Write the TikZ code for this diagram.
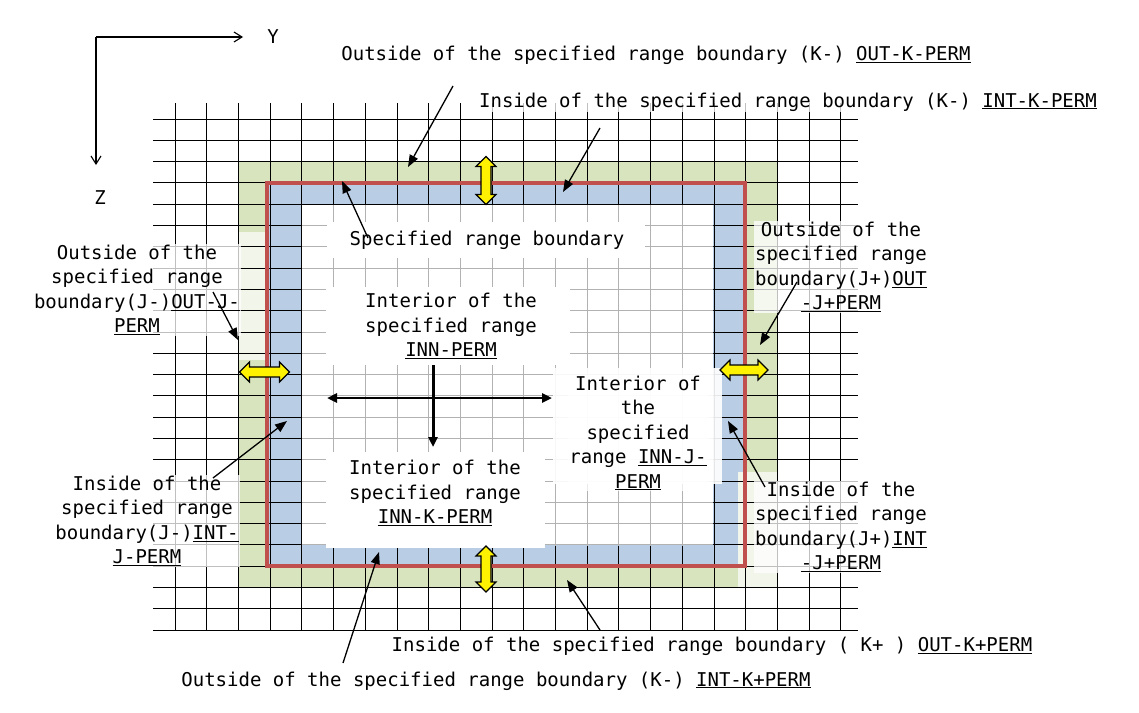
\documentclass[tikz,border=0pt]{standalone}
\usepackage{fontspec}
\setmonofont{DejaVu Sans Mono}
\usetikzlibrary{arrows.meta}
\definecolor{gfill}{HTML}{D7E4BD}
\definecolor{bfill}{HTML}{B9CDE5}
\definecolor{rline}{HTML}{C0504D}
\definecolor{pale}{HTML}{F2F5EA}
\tikzset{
 lbl/.style={font=\ttfamily\fontsize{19}{24.5}\selectfont,align=center,inner sep=1pt,fill=white,fill opacity=0.75,text opacity=1},
 ptr/.style={-{Triangle[length=12pt,width=9pt]},line width=1.3pt},
 blk/.style={{Triangle[length=10pt,width=9pt]}-{Triangle[length=10pt,width=9pt]},line width=2.5pt}
}
\begin{document}
\begin{tikzpicture}[x=1pt,y=-1pt]
\useasboundingbox (0,0) rectangle (1139,712);
% fills
\fill[gfill] (238,161) rectangle (777,588);
\fill[bfill] (267,183) rectangle (745,566);
\fill[pale] (238,232) rectangle (267,360);
\fill[pale] (738,472) rectangle (777,588);
% grid
\foreach \i in {0,...,21} \draw[black,line width=0.8pt] ({175+31.7*\i},103) -- ({175+31.7*\i},630);
\foreach \j in {0,...,24} \draw[black,line width=0.8pt] (153,{119+21.29*\j}) -- (858,{119+21.29*\j});
% interior grey
\fill[white] (302,205) rectangle (713,545);
\begin{scope}
\clip (302,205) rectangle (713,545);
\foreach \i in {0,...,21} \draw[gray!60,line width=0.8pt] ({175+31.7*\i},103) -- ({175+31.7*\i},630);
\foreach \j in {0,...,24} \draw[gray!60,line width=0.8pt] (153,{119+21.29*\j}) -- (858,{119+21.29*\j});
\end{scope}
% white text boxes
\fill[white] (327,222) rectangle (645,258);
\fill[white] (326,287) rectangle (570,365);
\fill[white,opacity=0.9] (553,368) rectangle (722,484);
\fill[white] (326,452) rectangle (545,548);
% red boundary
\draw[rline,line width=4pt] (267,183) rectangle (745,566);
% axes
\coordinate (o) at (96,37);
\coordinate (ye) at (243,37);
\coordinate (ze) at (96,165);
\draw[-{Straight Barb[length=8pt,width=10pt]},line width=1.1pt] (o) -- (ye);
\draw[-{Straight Barb[length=8pt,width=10pt]},line width=1.1pt] (o) -- (ze);
\node[font=\fontsize{19}{20}\selectfont\ttfamily] (ylab) at (273,37) {Y};
\node[font=\fontsize{19}{20}\selectfont\ttfamily] (zlab) at (100,198) {Z};
% labels
\node[lbl] (t1) at (656,55) {Outside of the specified range boundary (K-) \underline{OUT-K-PERM}};
\node[lbl] (t2) at (788,102) {Inside of the specified range boundary (K-) \underline{INT-K-PERM}};
\node[lbl] (t3) at (487,240) {Specified range boundary};
\node[lbl] (t4) at (137,290) {Outside of the\\specified range\\boundary(J-)\underline{OUT-J-}\\\underline{PERM}};
\node[lbl] (t5) at (451,326) {Interior of the\\specified range\\\underline{INN-PERM}};
\node[lbl] (t6) at (638,433) {Interior of\\the\\specified\\range \underline{INN-J-}\\\underline{PERM}};
\node[lbl] (t7) at (435,493) {Interior of the\\specified range\\\underline{INN-K-PERM}};
\node[lbl] (t8) at (841,267) {Outside of the\\specified range\\boundary(J+)\underline{OUT}\\\underline{-J+PERM}};
\node[lbl] (t9) at (147,521) {Inside of the\\specified range\\boundary(J-)\underline{INT-}\\\underline{J-PERM}};
\node[lbl] (t10) at (841,527) {Inside of the\\specified range\\boundary(J+)\underline{INT}\\\underline{-J+PERM}};
\node[lbl] (t11) at (712,646) {Inside of the specified range boundary ( K+ ) \underline{OUT-K+PERM}};
\node[lbl] (t12) at (496,681) {Outside of the specified range boundary (K-) \underline{INT-K+PERM}};
% pointers
\coordinate (p1a) at (453,86); \coordinate (p1b) at (408,167);
\coordinate (p2a) at (600,128); \coordinate (p2b) at (563,192);
\coordinate (p3a) at (368,238); \coordinate (p3b) at (342,181);
\coordinate (p4a) at (213,292); \coordinate (p4b) at (238,340);
\coordinate (p8a) at (797,282); \coordinate (p8b) at (760,345);
\coordinate (p9a) at (213,478); \coordinate (p9b) at (287,421);
\coordinate (p10a) at (765,487); \coordinate (p10b) at (728,421);
\coordinate (p11a) at (600,630); \coordinate (p11b) at (567,580);
\coordinate (p12a) at (343,663); \coordinate (p12b) at (379,552);
\foreach \a/\b in {p1a/p1b,p2a/p2b,p3a/p3b,p4a/p4b,p8a/p8b,p9a/p9b,p10a/p10b,p11a/p11b,p12a/p12b}
  \draw[ptr] (\a) -- (\b);
% black arrows
\coordinate (h1) at (327,398); \coordinate (h2) at (552,398);
\coordinate (v1) at (433,365); \coordinate (v2) at (433,447);
\draw[blk] (h1) -- (h2);
\draw[-{Triangle[length=10pt,width=9pt]},line width=3pt] (v1) -- (v2);
% yellow double arrows: center x, y, angle, half length
\foreach \cx/\cy/\ang/\L in {486/180.5/90/24, 264.5/372/0/25, 744/370/0/24, 486/569/90/23}
  \draw[fill=yellow,line width=1.2pt,line join=miter,shift={(\cx,\cy)},rotate=\ang]
    (-\L,0) -- (-\L+10,-10) -- (-\L+10,-5) -- (\L-10,-5) -- (\L-10,-10) -- (\L,0)
    -- (\L-10,10) -- (\L-10,5) -- (-\L+10,5) -- (-\L+10,10) -- cycle;
\end{tikzpicture}
\end{document}
